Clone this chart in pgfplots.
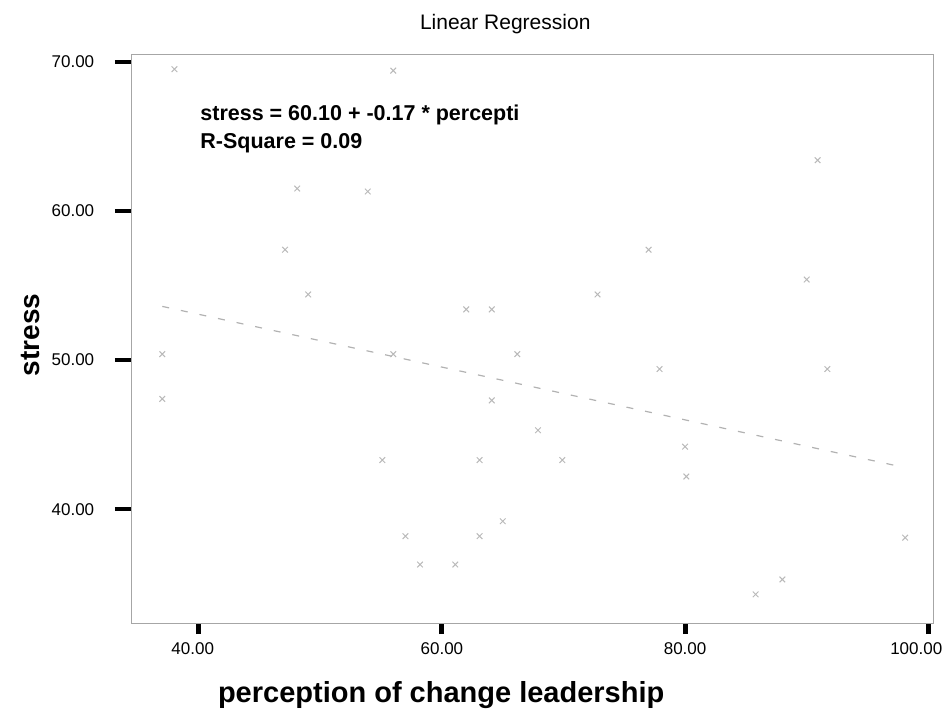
\documentclass[border=0pt]{standalone}
\usepackage{pgfplots}
\pgfplotsset{compat=1.18}
\usepackage{fontspec}
\setmainfont{Liberation Sans}
\pgfplotstableread{
x y
38.0 69.5
56.0 69.4
48.1 61.5
53.9 61.3
47.1 57.4
49.0 54.4
37.0 50.4
37.0 47.4
56.0 50.4
55.1 43.3
77.0 57.4
72.8 54.4
62.0 53.4
64.1 53.4
66.2 50.4
77.9 49.4
64.1 47.3
67.9 45.3
63.1 43.3
69.9 43.3
90.9 63.4
90.0 55.4
91.7 49.4
80.0 44.2
80.1 42.2
98.1 38.1
85.8 34.3
88.0 35.3
65.0 39.2
57.0 38.2
63.1 38.2
58.2 36.3
61.1 36.3
}\points
\pgfplotstableread{
x y
37.0 53.6
97.5 42.9
}\fitline
\begin{document}
\begin{tikzpicture}
\useasboundingbox (-132pt,-90pt) rectangle (813pt,623pt);
\begin{axis}[
  scale only axis,
  width=801pt, height=568pt,
  xmin=34.51, xmax=100.39,
  ymin=32.38, ymax=70.45,
  xtick={40,60,80,100},
  xticklabels={{\makebox[0pt]{\hspace{-12pt}40.00}},60.00,80.00,{\makebox[0pt][r]{100.00\hspace{-14pt}}}},
  ytick={40,50,60,70},
  yticklabels={40.00,50.00,60.00,70.00},
  minor tick num=0,
  xtick pos=bottom, ytick pos=left,
  tick align=outside,
  xtick style={black, line width=5pt, /pgfplots/major tick length=11pt},
  ytick style={black, line width=4pt, /pgfplots/major tick length=17pt},
  axis line style={gray!70, line width=1pt},
  tick label style={font=\fontsize{17}{20}\selectfont},
  xticklabel style={yshift=-12pt},
  yticklabel style={xshift=-30pt},
  clip=false,
]
\addplot[only marks, mark=x, mark size=4pt, gray!55, mark options={line width=1pt}] table[x=x,y=y] {\points};
\addplot[gray!60, line width=1.2pt, dash pattern=on 7pt off 12pt] table[x=x,y=y] {\fitline};
\node[font=\fontsize{21}{25}\selectfont] at (axis description cs:0.466,1.0546) {Linear Regression};
\node[font=\fontsize{28}{33}\selectfont\bfseries, rotate=90] at (axis description cs:-0.127,0.507) {stress};
\node[font=\fontsize{29}{34}\selectfont\bfseries] at (axis description cs:0.386,-0.127) {perception of change leadership};
\node[anchor=west, font=\fontsize{21.5}{25}\selectfont\bfseries] at (axis description cs:0.081,0.894) {stress = 60.10 + -0.17 * percepti};
\node[anchor=west, font=\fontsize{21.5}{25}\selectfont\bfseries] at (axis description cs:0.081,0.845) {R-Square = 0.09};
\end{axis}
\end{tikzpicture}
\end{document}
